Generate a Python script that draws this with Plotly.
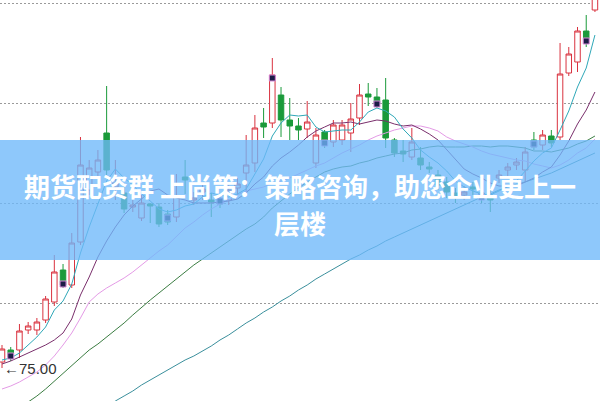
import plotly.graph_objects as go

# ---------------- data ----------------
opens = [75.6, 76.8, 76.8, 78.8, 78.8, 79.8, 81.6, 84.8, 83.3, 87.6,
         92.8, 94.6, 98.5, 93.1, 92.5, 91.1, 90.0, 91.4, 91.1, 90.4,
         90.1, 94.1, 91.8, 92.6, 91.8, 91.9, 91.8, 93.0, 94.5, 95.5,
         99.5, 99.5, 102.3, 99.8, 99.2, 98.9, 95.5, 98.6, 97.6, 97.8,
         98.5, 100.0, 102.4, 102.1, 101.8, 97.8, 96.7, 96.1, 96.0, 95.1,
         94.3, 93.6, 92.5, 92.3, 93.1, 92.5, 92.3, 94.0, 94.8, 95.3,
         94.8, 97.8, 97.3, 98.2, 98.1, 104.5, 105.6, 108.7, 110.8]
highs = [77.3, 77.1, 79.4, 79.6, 80.0, 82.2, 86.3, 85.4, 88.5, 98.1,
         95.8, 96.8, 103.2, 95.8, 93.5, 91.8, 92.3, 91.5, 91.5, 90.8,
         94.4, 95.8, 92.6, 93.5, 92.5, 92.3, 93.3, 94.0, 98.3, 100.3,
         101.0, 106.0, 103.1, 102.0, 100.0, 101.7, 99.0, 98.8, 99.8, 99.8,
         101.5, 103.4, 103.5, 103.0, 104.0, 98.0, 97.8, 99.0, 97.1, 95.6,
         94.8, 94.1, 93.0, 93.2, 93.6, 92.8, 93.0, 94.8, 95.5, 96.0,
         97.1, 98.6, 98.8, 98.8, 107.5, 107.1, 109.1, 110.3, 114.8]
lows = [75.0, 75.7, 76.0, 78.4, 78.3, 79.5, 81.2, 83.0, 83.0, 87.3,
        92.3, 93.3, 94.3, 91.8, 90.5, 90.6, 89.7, 89.5, 89.1, 89.3,
        89.6, 92.4, 91.3, 91.8, 90.1, 91.0, 91.3, 92.3, 92.6, 94.6,
        98.0, 99.0, 98.1, 97.8, 97.8, 98.0, 95.0, 97.0, 97.1, 97.3,
        96.6, 99.3, 101.2, 101.0, 97.0, 96.1, 95.6, 95.8, 94.8, 94.5,
        92.8, 92.0, 91.5, 91.8, 92.3, 91.5, 90.6, 93.5, 94.2, 94.8,
        93.6, 96.8, 96.8, 97.1, 97.8, 104.2, 104.6, 107.1, 110.6]
closes = [76.9, 76.1, 78.7, 79.2, 79.6, 81.9, 84.6, 83.3, 87.5, 95.3,
          95.0, 95.8, 94.8, 93.5, 90.9, 91.3, 91.5, 91.2, 89.4, 89.6,
          92.2, 93.8, 92.0, 92.9, 91.6, 91.4, 92.8, 93.4, 95.3, 99.0,
          99.1, 104.3, 99.8, 99.2, 98.8, 99.6, 98.3, 97.3, 99.3, 99.3,
          99.9, 102.3, 102.1, 101.4, 98.0, 96.5, 96.4, 97.6, 95.3, 94.9,
          93.3, 92.6, 92.2, 92.6, 92.9, 91.9, 91.8, 94.3, 95.1, 95.6,
          96.6, 97.1, 98.3, 97.5, 104.4, 106.4, 108.7, 108.0, 113.8]

ma5 = [75.8, 76.0, 76.5, 77.3, 78.1, 79.1, 80.8, 81.7, 83.4, 86.5,
       89.1, 91.4, 93.7, 94.9, 94.0, 93.3, 92.4, 91.7, 90.9, 90.6,
       90.8, 91.2, 91.4, 92.1, 92.5, 92.3, 92.1, 92.4, 92.9, 94.4,
       95.9, 98.2, 99.5, 100.3, 100.2, 100.3, 99.1, 98.6, 98.7, 98.8,
       98.8, 99.6, 100.6, 101.0, 100.7, 100.1, 98.9, 98.0, 96.8, 96.1,
       95.5, 94.7, 93.7, 93.1, 92.7, 92.4, 92.3, 92.7, 93.2, 93.7,
       94.7, 95.7, 96.5, 97.0, 98.8, 100.7, 103.1, 105.0, 108.3]
ma10 = [75.4, 75.7, 76.1, 76.5, 76.9, 77.3, 77.8, 78.5, 79.9, 82.3,
        84.1, 86.1, 87.7, 89.1, 90.3, 91.2, 91.9, 92.7, 92.9, 92.3,
        92.0, 91.8, 91.5, 91.5, 91.5, 91.6, 91.7, 91.9, 92.5, 93.4,
        94.1, 95.2, 96.0, 96.6, 97.3, 98.1, 98.7, 99.1, 99.5, 99.5,
        99.6, 99.4, 99.6, 99.8, 99.7, 99.4, 99.2, 99.3, 98.9, 98.4,
        97.8, 96.8, 95.8, 94.9, 94.4, 94.0, 93.5, 93.2, 93.2, 93.2,
        93.6, 94.0, 94.6, 95.1, 96.3, 97.7, 99.4, 100.8, 102.6]
ma20 = [72.9, 73.2, 73.6, 74.1, 74.6, 75.3, 76.2, 77.3, 78.5, 80.0,
        81.6, 82.4, 83.0, 83.5, 84.0, 84.6, 85.3, 86.0, 86.7, 87.3,
        88.1, 89.0, 89.6, 90.3, 90.9, 91.4, 91.8, 92.3, 92.7, 92.9,
        93.1, 93.5, 93.7, 94.0, 94.4, 94.8, 95.2, 95.5, 96.0, 96.5,
        96.9, 97.3, 97.8, 98.2, 98.5, 98.8, 99.0, 99.2, 99.2, 99.0,
        98.7, 98.1, 97.7, 97.4, 97.1, 96.7, 96.4, 96.2, 96.0, 95.8,
        95.7, 95.4, 95.2, 95.0, 95.3, 95.8, 96.5, 97.0, 97.9]
ma30 = [69.8, 70.4, 71.0, 71.6, 72.2, 72.9, 73.7, 74.5, 75.3, 76.0,
        76.8, 77.4, 78.1, 78.8, 79.5, 80.3, 81.1, 81.8, 82.5, 83.2,
        83.9, 84.6, 85.3, 85.9, 86.5, 87.1, 87.7, 88.3, 88.9, 89.4,
        90.1, 91.0, 91.7, 92.4, 93.0, 93.6, 94.1, 94.6, 94.9, 95.1,
        95.2, 95.5, 95.7, 96.0, 96.2, 96.4, 96.5, 96.8, 96.9, 97.1,
        97.2, 97.1, 97.1, 97.1, 97.2, 97.2, 97.1, 97.2, 97.2, 97.1,
        97.0, 96.7, 96.7, 96.6, 96.8, 97.0, 97.4, 97.7, 98.2]
ma60_start = 12
ma60 = [71.1, 71.7, 72.2, 72.7, 73.3, 73.8, 74.3, 74.8, 75.3, 75.8,
        76.2, 76.7, 77.2, 77.8, 78.3, 78.9, 79.5, 80.0, 80.6, 81.1,
        81.7, 82.2, 82.8, 83.3, 83.9, 84.4, 84.9, 85.4, 85.9, 86.3,
        86.8, 87.2, 87.7, 88.1, 88.5, 88.9, 89.3, 89.7, 90.1, 90.5,
        90.9, 91.3, 91.7, 92.1, 92.4, 92.8, 93.1, 93.4, 93.6, 93.9,
        94.2, 94.5, 94.9, 95.3, 95.7, 96.1, 96.5]

signal_idx = [1, 7, 19, 25, 31, 37, 43, 55, 61, 67]
signal_val = [76.2, 83.4, 90.0, 91.7, 104.0, 97.5, 101.4, 92.1, 97.4, 107.7]

low_label = "←75.00"
banner_line1 = "期货配资群 上尚策：策略咨询，助您企业更上一"
banner_line2 = "层楼"

# ---------------- figure ----------------
idx = list(range(len(closes)))
fig = go.Figure()

fig.add_trace(go.Candlestick(
    x=idx, open=opens, high=highs, low=lows, close=closes,
    increasing=dict(line=dict(color="#d9323f", width=1), fillcolor="white"),
    decreasing=dict(line=dict(color="#1a9a3a", width=1), fillcolor="#1a9a3a"),
    whiskerwidth=0, hoverinfo="skip", showlegend=False,
))

def add_ma(vals, color, start=0):
    fig.add_trace(go.Scatter(
        x=list(range(start, start + len(vals))), y=vals, mode="lines",
        line=dict(color=color, width=1), hoverinfo="skip", showlegend=False))

add_ma(ma60, "#3a8f9c", ma60_start)
add_ma(ma30, "#3b7d42")
add_ma(ma20, "#e49ae6")
add_ma(ma10, "#7a2f6c")
add_ma(ma5, "#2fa8b8")

fig.add_trace(go.Scatter(
    x=signal_idx, y=signal_val, mode="markers",
    marker=dict(symbol="square", size=6, color="#1c1c46",
                line=dict(color="#d98ad9", width=1)),
    hoverinfo="skip", showlegend=False))

fig.add_annotation(x=0.004, xref="paper", y=75.0, yref="y", text=low_label,
                   showarrow=False, xanchor="left", yanchor="middle",
                   font=dict(family="Liberation Sans, Arial", size=15, color="#333333"))

# banner overlay
fig.add_shape(type="rect", xref="paper", yref="paper", x0=0, x1=1,
              y0=1 - 260 / 401, y1=1 - 140 / 401, layer="above",
              line=dict(width=0), fillcolor="rgba(110,185,250,0.78)")
fig.add_annotation(x=0.5, xref="paper", y=1 - 185 / 401, yref="paper",
                   text=banner_line1, showarrow=False, xanchor="center", yanchor="middle",
                   font=dict(family="Noto Sans CJK SC", size=26, color="white", weight="bold"))
fig.add_annotation(x=0.5, xref="paper", y=1 - 222 / 401, yref="paper",
                   text=banner_line2, showarrow=False, xanchor="center", yanchor="middle",
                   font=dict(family="Noto Sans CJK SC", size=26, color="white", weight="bold"))

fig.update_layout(
    width=600, height=401, margin=dict(l=0, r=0, t=0, b=0),
    paper_bgcolor="white", plot_bgcolor="white", showlegend=False,
    boxgap=0.1,
    xaxis=dict(range=[-0.23, 68.58], showgrid=False, zeroline=False,
               showticklabels=False, rangeslider=dict(visible=False), fixedrange=True),
    yaxis=dict(range=[71.7, 111.8], showgrid=True, gridcolor="#9a9a9a",
               griddash="2px,2px", gridwidth=1, tick0=1.5, dtick=10,
               zeroline=False, showticklabels=False, fixedrange=True),
)

fig.write_html("out.html", config={"displayModeBar": False},
               post_script="document.body.style.margin='0';document.body.style.padding='0';")
